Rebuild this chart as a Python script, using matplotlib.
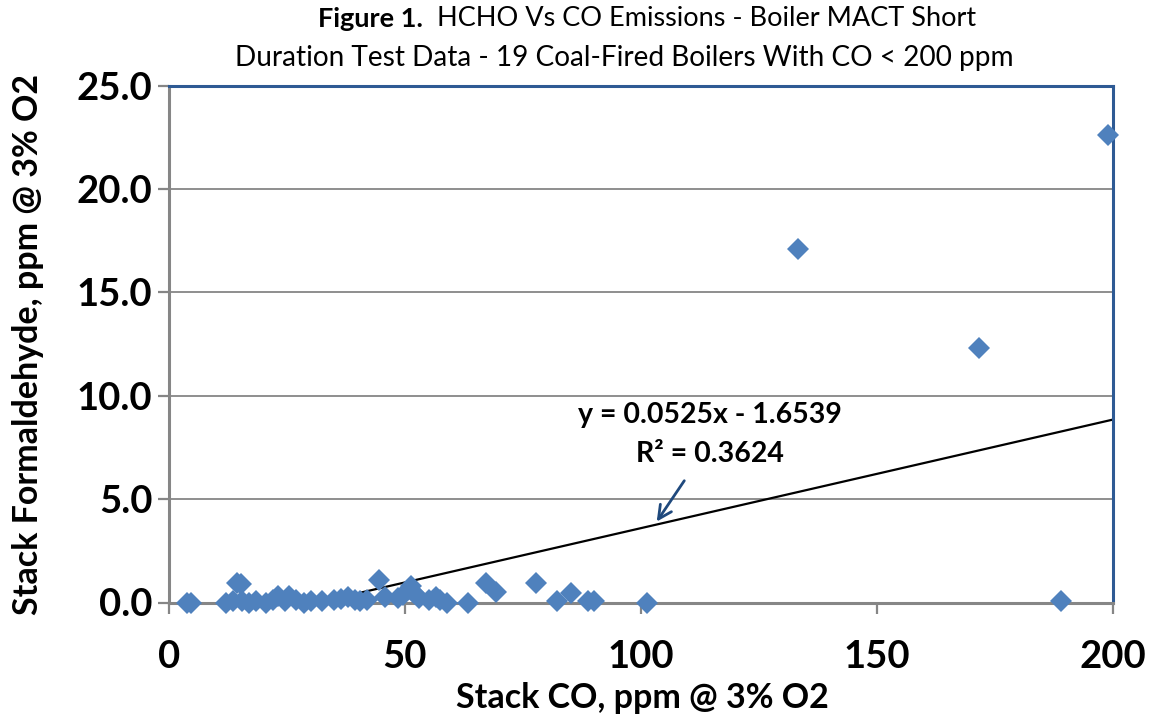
import matplotlib
matplotlib.use("Agg")
import matplotlib.pyplot as plt
import numpy as np

# Stack CO (ppm @ 3% O2) and stack formaldehyde (ppm @ 3% O2) per test run
co_ppm = [3.8, 4.6, 12.0, 13.5, 14.4, 15.2, 15.5, 17.0, 18.5, 20.5, 22.0, 23.0,
          24.5, 25.5, 27.0, 28.5, 30.0, 32.5, 35.0, 36.5, 38.0, 39.5, 40.5, 42.0,
          44.5, 45.8, 48.5, 49.5, 51.3, 52.0, 53.0, 55.0, 56.5, 57.5, 59.0, 63.3,
          67.2, 69.3, 77.8, 82.2, 85.2, 88.8, 90.0, 101.3, 133.3, 171.6, 189.0, 199.0]
hcho_ppm = [0.0, 0.0, 0.0, 0.05, 0.95, 0.9, 0.05, 0.0, 0.05, 0.0, 0.1, 0.3,
            0.05, 0.3, 0.1, 0.0, 0.05, 0.05, 0.1, 0.15, 0.25, 0.1, 0.05, 0.1,
            1.1, 0.25, 0.2, 0.35, 0.8, 0.45, 0.2, 0.1, 0.25, 0.1, 0.0, 0.0,
            0.95, 0.5, 0.95, 0.05, 0.45, 0.05, 0.05, 0.0, 17.1, 12.3, 0.05, 22.6]

# Linear trendline reported on the chart
slope = 0.0525
intercept = -1.6539
r_squared = 0.3624

x_ticks = [0, 50, 100, 150, 200]
y_ticks = [0, 5, 10, 15, 20, 25]

FONT = ["Lato", "DejaVu Sans"]
plt.rcParams["font.family"] = FONT

fig = plt.figure(figsize=(11.49, 7.23), dpi=100)
ax = fig.add_axes([169 / 1149, 1 - 602.5 / 723, (1113 - 169) / 1149, (602.5 - 85.5) / 723])

ax.set_xlim(0, 200)
ax.set_ylim(0, 25)

# Horizontal gridlines
for yv in y_ticks[1:-1]:
    ax.axhline(yv, color="#868686", lw=1.3, zorder=1)

# Trendline, clipped at y = 0
x_start = -intercept / slope
xt = np.array([x_start, 200.0])
ax.plot(xt, slope * xt + intercept, color="black", lw=1.6, zorder=2)

ax.plot(co_ppm, hcho_ppm, linestyle="none", marker="D", markersize=11.5,
        color="#4F81BD", markeredgewidth=0, zorder=3, clip_on=False)

# Frame: grey left/bottom axes, dark blue top/right border
for side in ("left", "bottom"):
    ax.spines[side].set_color("#868686")
    ax.spines[side].set_linewidth(2.2)
for side in ("top", "right"):
    ax.spines[side].set_color("#2E5A94")
    ax.spines[side].set_linewidth(2.2)

ax.set_xticks(x_ticks)
ax.set_yticks(y_ticks)
ax.set_xticklabels([str(v) for v in x_ticks])
ax.set_yticklabels([f"{v:.1f}" for v in y_ticks])
ax.tick_params(axis="both", direction="out", length=8, width=1.6, color="#868686",
               labelsize=27.5)
for lab in ax.get_xticklabels() + ax.get_yticklabels():
    lab.set_fontweight("bold")
ax.tick_params(axis="x", pad=19)
ax.tick_params(axis="y", pad=4)

ax.set_xlabel("Stack CO, ppm @ 3% O2", fontsize=24.5, fontweight="bold", va="center")
ax.set_ylabel("Stack Formaldehyde, ppm @ 3% O2", fontsize=24.5, fontweight="bold", va="center")
ax.xaxis.set_label_coords(0.501, (602.5 - 698) / 517)
ax.yaxis.set_label_coords((28 - 169) / 944, 0.5)

# Trendline equation and pointer arrow
ax.text(114.5, 9.05, f"y = {slope}x - {abs(intercept)}", fontsize=20.5, fontweight="bold",
        ha="center", va="center", zorder=4)
ax.text(114.5, 7.2, f"R² = {r_squared}", fontsize=20.5, fontweight="bold",
        ha="center", va="center", zorder=4)
ax.annotate("", xy=(103.0, 3.8), xytext=(109.5, 6.0),
            arrowprops=dict(arrowstyle="->", color="#1F497D", lw=2.0,
                            mutation_scale=24), zorder=4)

# Two-line title, first part bold
title_bold = "Figure 1."
title_rest = "  HCHO Vs CO Emissions - Boiler MACT Short"
title_line2 = "Duration Test Data - 19 Coal-Fired Boilers With CO < 200 ppm"
tsize = 19.5
t1 = fig.text(0, 1 - 19 / 723, title_bold, fontsize=tsize, fontweight="bold", ha="left", va="center")
t2 = fig.text(0, 1 - 19 / 723, title_rest, fontsize=tsize, ha="left", va="center")
fig.text(624 / 1149, 1 - 58 / 723, title_line2, fontsize=20.2, ha="center", va="center")

fig.canvas.draw()
r = fig.canvas.get_renderer()
w1 = t1.get_window_extent(r).width
w2 = t2.get_window_extent(r).width
fw = fig.bbox.width
x0 = 647 - (w1 + w2) / 2
t1.set_x(x0 / fw)
t2.set_x((x0 + w1) / fw)

fig.savefig("out.png", dpi=100)
